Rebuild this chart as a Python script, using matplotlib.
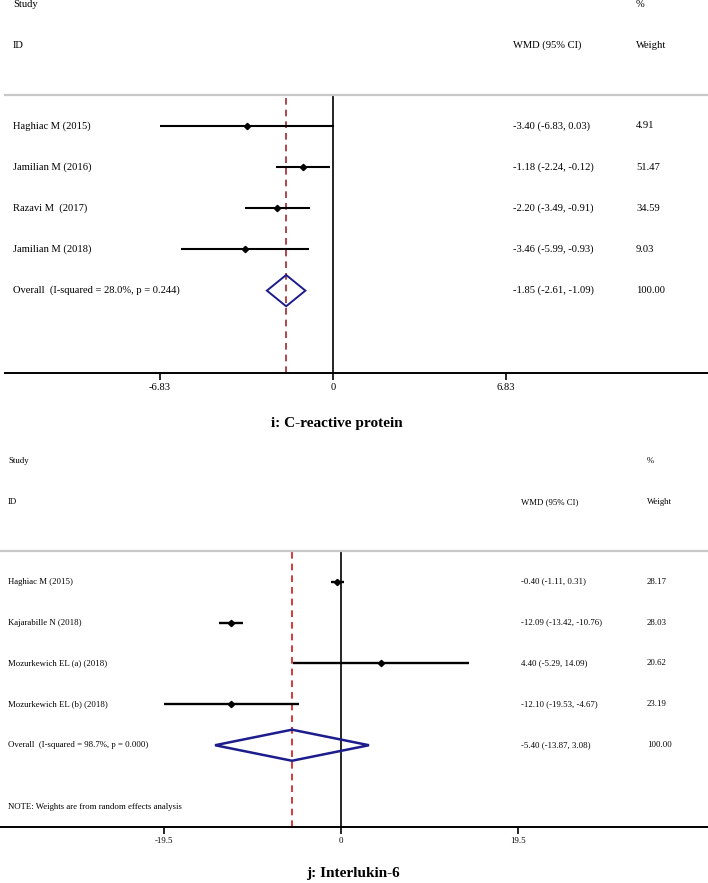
import matplotlib.pyplot as plt
from matplotlib.transforms import blended_transform_factory

plt.rcParams['font.family'] = ['Liberation Serif', 'DejaVu Serif']

# --- i: C-reactive protein ---
crp_studies = ["Haghiac M (2015)", "Jamilian M (2016)", "Razavi M  (2017)", "Jamilian M (2018)"]
crp_es = [-3.40, -1.18, -2.20, -3.46]
crp_lo = [-6.83, -2.24, -3.49, -5.99]
crp_hi = [0.03, -0.12, -0.91, -0.93]
crp_weight = ["4.91", "51.47", "34.59", "9.03"]
crp_overall = (-1.85, -2.61, -1.09)
crp_overall_label = "Overall  (I-squared = 28.0%, p = 0.244)"
crp_ticks = [-6.83, 0, 6.83]
crp_ticklabels = ["-6.83", "0", "6.83"]

# --- j: Interlukin-6 ---
il6_studies = ["Haghiac M (2015)", "Kajarabille N (2018)", "Mozurkewich EL (a) (2018)", "Mozurkewich EL (b) (2018)"]
il6_es = [-0.40, -12.09, 4.40, -12.10]
il6_lo = [-1.11, -13.42, -5.29, -19.53]
il6_hi = [0.31, -10.76, 14.09, -4.67]
il6_weight = ["28.17", "28.03", "20.62", "23.19"]
il6_overall = (-5.40, -13.87, 3.08)
il6_overall_label = "Overall  (I-squared = 98.7%, p = 0.000)"
il6_ticks = [-19.5, 0, 19.5]
il6_ticklabels = ["-19.5", "0", "19.5"]

W, H = 708, 883
fig = plt.figure(figsize=(W / 100, H / 100), dpi=100)


def forest(box, xlim, studies, es, lo, hi, weights, overall, overall_label,
           ticks, ticklabels, cols, fs, refcolor, ci_lw, dia_lw, note=None):
    left, right, top, bottom = box
    ax = fig.add_axes([left / W, 1 - bottom / H, (right - left) / W, (bottom - top) / H])
    ax.set_xlim(*xlim)
    ax.set_ylim(7.0, 0.25)
    for s in ['left', 'right']:
        ax.spines[s].set_visible(False)
    ax.spines['top'].set_color('#c8c8c8')
    ax.spines['top'].set_linewidth(1.6)
    ax.spines['bottom'].set_linewidth(1.4)
    ax.set_yticks([])
    ax.set_xticks(ticks)
    ax.set_xticklabels(ticklabels, fontsize=fs)
    ax.tick_params(axis='x', length=5, width=1.2, pad=2)

    ax.axvline(0, color='black', lw=1.2, zorder=1)
    ax.axvline(overall[0], color=refcolor, lw=1.2, ls=(0, (4, 3)), zorder=1)

    rows = list(range(1, len(studies) + 1))
    for r, e, l, h in zip(rows, es, lo, hi):
        ax.plot([l, h], [r, r], color='black', lw=ci_lw, solid_capstyle='butt', zorder=2)
        ax.plot(e, r, marker='D', color='black', ms=3.2, zorder=3)

    ro = len(studies) + 1
    e, l, h = overall
    ax.fill([l, e, h, e, l], [ro, ro - 0.38, ro, ro + 0.38, ro], fill=False,
            edgecolor='#1c1c8c', lw=dia_lw, zorder=3)

    tr = blended_transform_factory(fig.transFigure, ax.transData)
    xs, xw, xp = [c / W for c in cols]
    kw = dict(transform=tr, fontsize=fs, va='center', clip_on=False)
    ax.text(xs, -1.95, "Study", **kw)
    ax.text(xp, -1.95, "%", **kw)
    ax.text(xs, -0.95, "ID", **kw)
    ax.text(xw, -0.95, "WMD (95% CI)", **kw)
    ax.text(xp, -0.95, "Weight", **kw)
    for r, s, e, l, h, w in zip(rows, studies, es, lo, hi, weights):
        ax.text(xs, r, s, **kw)
        ax.text(xw, r, f"{e:.2f} ({l:.2f}, {h:.2f})", **kw)
        ax.text(xp, r, w, **kw)
    e, l, h = overall
    ax.text(xs, ro, overall_label, **kw)
    ax.text(xw, ro, f"{e:.2f} ({l:.2f}, {h:.2f})", **kw)
    ax.text(xp, ro, "100.00", **kw)
    if note:
        ax.text(xs, 6.5, note, **kw)
    return ax


# panel i: 0 at x=333px, 25.33 px per unit
forest((5, 708, 95, 373), ((5 - 333) / 25.33, (708 - 333) / 25.33),
       crp_studies, crp_es, crp_lo, crp_hi, crp_weight, crp_overall, crp_overall_label,
       crp_ticks, crp_ticklabels, (13, 513, 636), 7.6, '#a3282d', 1.5, 1.4)
fig.text(337 / W, 1 - 424 / H, "i: C-reactive protein", ha='center', va='center',
         fontsize=11, fontweight='bold')

# panel j: 0 at x=341px, 9.08 px per unit
forest((0, 708, 551, 827), ((0 - 341) / 9.08, (708 - 341) / 9.08),
       il6_studies, il6_es, il6_lo, il6_hi, il6_weight, il6_overall, il6_overall_label,
       il6_ticks, il6_ticklabels, (8, 521, 647), 6.3, '#d01818', 1.7, 1.8,
       note="NOTE: Weights are from random effects analysis")
fig.text(353 / W, 1 - 874 / H, "j: Interlukin-6", ha='center', va='center',
         fontsize=11, fontweight='bold')

fig.savefig("out.png", dpi=100)
